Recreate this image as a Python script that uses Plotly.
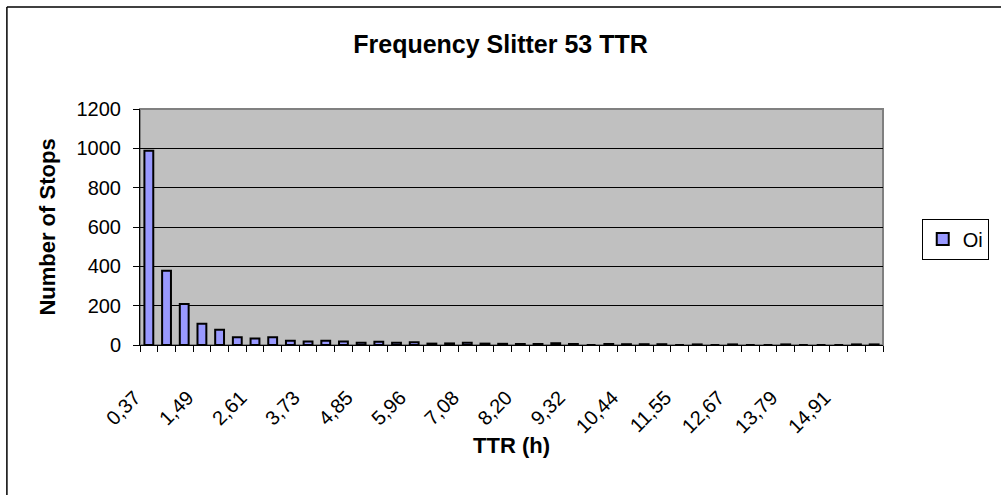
import plotly.graph_objects as go

# Data
bin_counts = [988, 378, 208, 108, 78, 39, 33, 40, 21, 18, 21, 18, 11, 16, 11, 14,
              7, 8, 11, 7, 6, 5, 5, 9, 5, 0, 5, 4, 4, 4, 0, 3, 0, 3, 0, 0,
              3, 0, 0, 0, 3, 3]
tick_labels = ["0,37", "1,49", "2,61", "3,73", "4,85", "5,96", "7,08", "8,20",
               "9,32", "10,44", "11,55", "12,67", "13,79", "14,91"]
label_every = 3
series_name = "Oi"

bins = list(range(len(bin_counts)))
tick_positions = bins[::label_every][:len(tick_labels)]

FONT = "Liberation Sans, Arial, sans-serif"

fig = go.Figure()
fig.add_trace(go.Bar(
    x=bins, y=bin_counts, name=series_name,
    marker=dict(color="#9999FF", line=dict(color="black", width=2)),
    showlegend=True,
))

L, R, T, B = 140, 113, 109, 150
W, H = 1001, 495
pw, ph = W - L - R, H - T - B

fig.update_layout(
    width=W, height=H,
    margin=dict(l=L, r=R, t=T, b=B, pad=0),
    paper_bgcolor="white",
    plot_bgcolor="#C0C0C0",
    bargap=0.5,
    font=dict(family=FONT, color="black", size=20),
    title=dict(text="<b>Frequency Slitter 53 TTR</b>", x=0.5, xanchor="center",
               y=1 - 44 / H, yanchor="middle", font=dict(size=25, family=FONT)),
    xaxis=dict(
        range=[-0.5, len(bin_counts) - 0.5],
        tickmode="array", tickvals=tick_positions, ticktext=tick_labels,
        tickangle=-45, ticks="", showgrid=False, zeroline=False,
        showline=True, linecolor="black", linewidth=1,
        ticklabelstandoff=32, ticklabelshift=-14,
        tickfont=dict(size=20),
        minor=dict(tick0=-0.5, dtick=1, ticks="outside", ticklen=6,
                   tickcolor="black", tickwidth=1, showgrid=False),
        title=dict(text="<b>TTR (h)</b>", font=dict(size=22), standoff=1),
    ),
    yaxis=dict(
        range=[0, 1200], dtick=200, tick0=0,
        ticks="outside", ticklen=6, tickcolor="black", tickwidth=1,
        showgrid=True, gridcolor="black", gridwidth=1,
        zeroline=False, showline=True, linecolor="black", linewidth=1,
        tickfont=dict(size=20), ticklabelstandoff=8,
        title=dict(text="<b>Number of Stops</b>", font=dict(size=22), standoff=14),
    ),
    legend=dict(
        x=(927 - L) / pw, xanchor="left",
        y=(H - B - 239) / ph, yanchor="middle",
        bordercolor="black", borderwidth=1, bgcolor="white",
        font=dict(size=20), itemwidth=30,
    ),
    shapes=[
        dict(type="rect", xref="paper", yref="paper", x0=0, x1=1, y0=0, y1=1,
             line=dict(color="#808080", width=2), layer="below"),
        dict(type="line", xref="paper", yref="paper",
             x0=(6 - L) / pw, x1=(6 - L) / pw, y0=(H - B - 7) / ph, y1=-1,
             line=dict(color="black", width=1.5)),
        dict(type="line", xref="paper", yref="paper",
             x0=(6 - L) / pw, x1=2, y0=(H - B - 7) / ph, y1=(H - B - 7) / ph,
             line=dict(color="black", width=1.5)),
    ],
)

fig.write_html("out.html")
